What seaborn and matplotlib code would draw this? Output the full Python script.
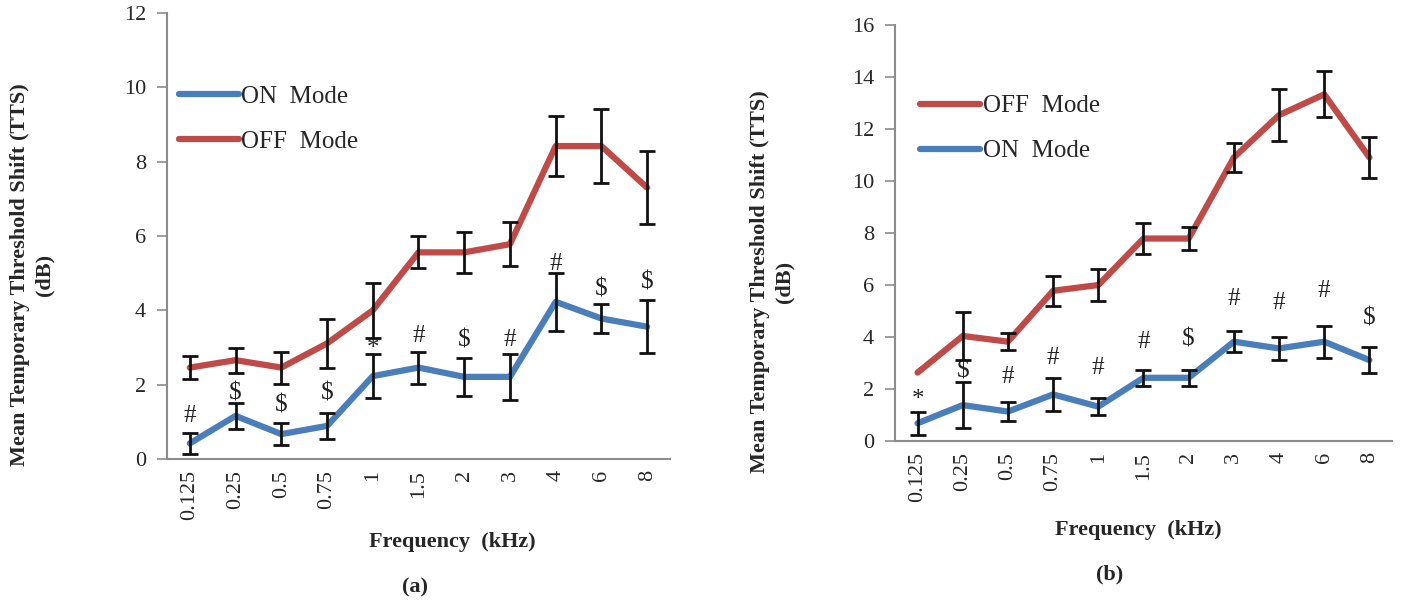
import pandas as pd
import matplotlib
matplotlib.use("Agg")
import matplotlib.pyplot as plt
import seaborn as sns

# ------------------ data ------------------
freqs = ["0.125", "0.25", "0.5", "0.75", "1", "1.5", "2", "3", "4", "6", "8"]

# panel (a)
a_on = [0.42, 1.16, 0.67, 0.89, 2.23, 2.46, 2.21, 2.21, 4.23, 3.78, 3.56]
a_on_err = [0.28, 0.35, 0.30, 0.35, 0.60, 0.43, 0.52, 0.61, 0.78, 0.39, 0.72]
a_off = [2.46, 2.66, 2.46, 3.11, 4.00, 5.56, 5.56, 5.78, 8.42, 8.42, 7.30]
a_off_err = [0.30, 0.34, 0.43, 0.66, 0.74, 0.43, 0.56, 0.60, 0.80, 1.00, 0.99]
a_marks = ["#", "$", "$", "$", "*", "#", "$", "#", "#", "$", "$"]
a_mark_y = [1.15, 1.75, 1.45, 1.75, 2.95, 3.30, 3.20, 3.20, 5.25, 4.55, 4.75]

# panel (b)
b_off = [2.62, 4.03, 3.81, 5.77, 5.99, 7.78, 7.78, 10.90, 12.53, 13.33, 10.90]
b_off_err = [0.0, 0.94, 0.33, 0.58, 0.61, 0.58, 0.45, 0.56, 1.00, 0.88, 0.79]
b_on = [0.67, 1.37, 1.12, 1.78, 1.31, 2.42, 2.42, 3.81, 3.55, 3.81, 3.10]
b_on_err = [0.45, 0.90, 0.35, 0.63, 0.33, 0.30, 0.30, 0.40, 0.43, 0.62, 0.49]
b_marks = ["*", "$", "#", "#", "#", "#", "$", "#", "#", "#", "$"]
b_mark_y = [1.55, 2.65, 2.45, 3.20, 2.80, 3.80, 3.90, 5.45, 5.30, 5.75, 4.70]

blue = "#4A7EBB"
red = "#BE4B48"

sns.set_style("white")
plt.rcParams['font.family'] = ['Liberation Serif', 'DejaVu Serif']

fig = plt.figure(figsize=(14.21, 6.03), dpi=100)
ax_a = fig.add_axes([0.1175, 0.2388, 0.354, 0.7396])
ax_b = fig.add_axes([0.6298, 0.2692, 0.3498, 0.6894])


def draw_panel(ax, on, on_err, off, off_err, marks, mark_y, ymax, order, anchor):
    df = pd.concat([
        pd.DataFrame({'Frequency': freqs, 'TTS': on, 'Mode': 'ON  Mode'}),
        pd.DataFrame({'Frequency': freqs, 'TTS': off, 'Mode': 'OFF  Mode'}),
    ])
    sns.lineplot(data=df, x='Frequency', y='TTS', hue='Mode', sort=False,
                 palette={'ON  Mode': blue, 'OFF  Mode': red},
                 linewidth=4.5, ax=ax)
    for vals, errs in [(on, on_err), (off, off_err)]:
        # skip points with no visible error bar
        keep = [i for i, e in enumerate(errs) if e > 0]
        ax.errorbar([freqs[i] for i in keep], [vals[i] for i in keep],
                    yerr=[errs[i] for i in keep], fmt='none', ecolor='#111111',
                    elinewidth=2, capsize=6, capthick=2, zorder=5)
    for i, (m, y) in enumerate(zip(marks, mark_y)):
        ax.text(i, y, m.replace("$", r"\$"), ha='center', va='center',
                fontsize=18, color='#222222')

    ax.set_xlim(-0.5, len(freqs) - 0.5)
    ax.set_ylim(0, ymax)
    ax.set_yticks(range(0, ymax + 1, 2))
    ax.set_xlabel('')
    ax.set_ylabel('')
    sns.despine(ax=ax)
    for s in ['left', 'bottom']:
        ax.spines[s].set_color('#8c8c8c')
        ax.spines[s].set_linewidth(1.5)
    ax.tick_params(axis='y', direction='out', length=7, width=1.2,
                   color='#8c8c8c', labelsize=16, pad=8, left=True)
    ax.tick_params(axis='x', length=0, labelsize=16, rotation=90, pad=8)

    handles, labels = ax.get_legend_handles_labels()
    lut = dict(zip(labels, handles))
    ax.legend([lut[k] for k in order], order, loc='upper left',
              bbox_to_anchor=anchor, frameon=False, fontsize=18,
              handlelength=2.4, handletextpad=0.1, labelspacing=0.9)


draw_panel(ax_a, a_on, a_on_err, a_off, a_off_err, a_marks, a_mark_y, 12,
           ['ON  Mode', 'OFF  Mode'], (-0.021, 0.888))
draw_panel(ax_b, b_on, b_on_err, b_off, b_off_err, b_marks, b_mark_y, 16,
           ['OFF  Mode', 'ON  Mode'], (0.006, 0.886))

ylab = 'Mean Temporary Threshold Shift (TTS)\n(dB)'
fig.text(32 / 1421, 1 - 275 / 603, ylab, rotation=90, ha='center', va='center',
         fontsize=16, fontweight='bold', linespacing=1.3)
fig.text(772 / 1421, 1 - 282 / 603, ylab, rotation=90, ha='center', va='center',
         fontsize=16, fontweight='bold', linespacing=1.3)
fig.text(452 / 1421, 1 - 542 / 603, 'Frequency  (kHz)', ha='center', va='center',
         fontsize=16, fontweight='bold')
fig.text(1138 / 1421, 1 - 530 / 603, 'Frequency  (kHz)', ha='center', va='center',
         fontsize=16, fontweight='bold')
fig.text(415 / 1421, 1 - 587 / 603, '(a)', ha='center', va='center',
         fontsize=16, fontweight='bold')
fig.text(1110 / 1421, 1 - 574 / 603, '(b)', ha='center', va='center',
         fontsize=16, fontweight='bold')

fig.savefig('out.png', dpi=100)
